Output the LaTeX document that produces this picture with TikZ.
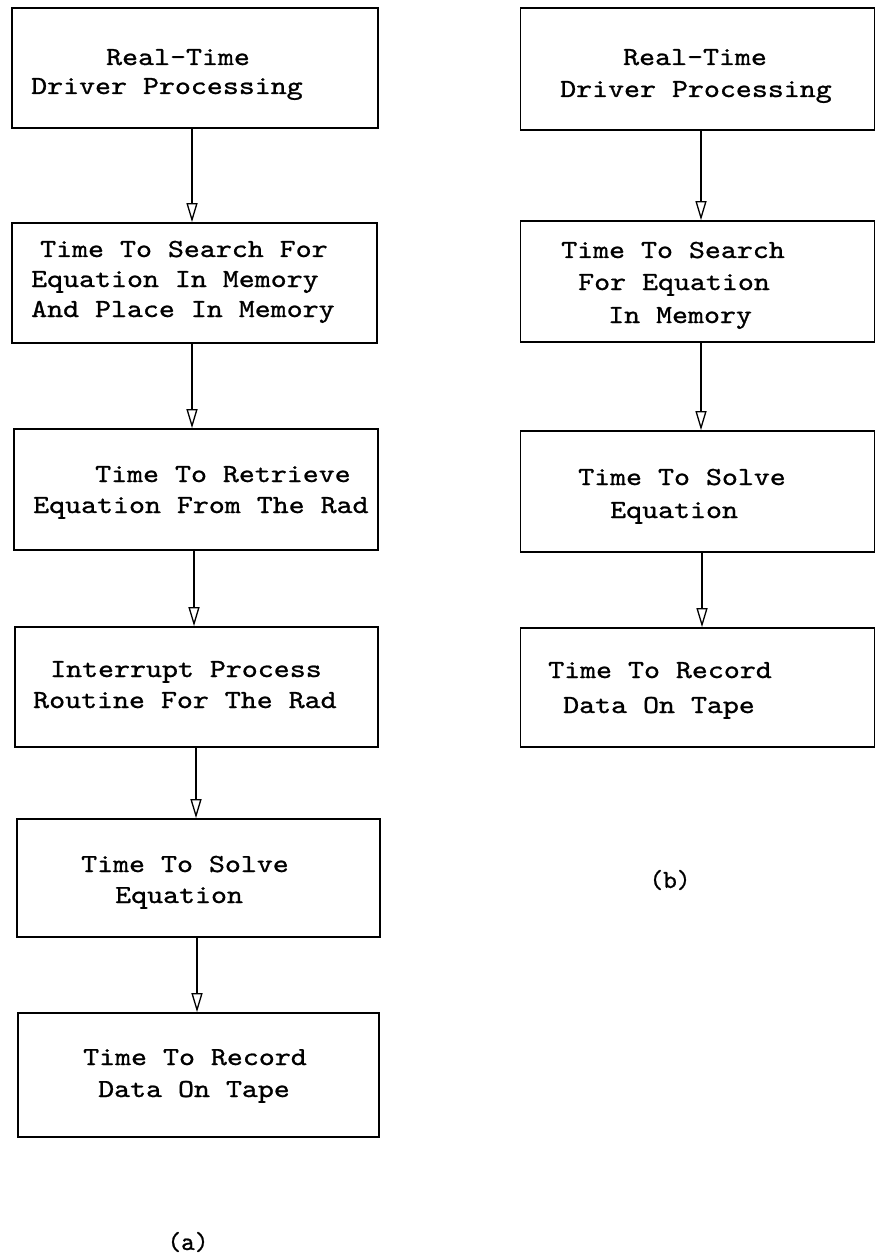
\documentclass[tikz,border=0pt]{standalone}
\usepackage{graphicx}
\usepackage{fontspec}
\newfontfamily\typew{lmmono10-regular.otf}[FakeBold=0.9]
\usetikzlibrary{arrows.meta,calc}
\newcommand\twl[1]{\scalebox{1.17}[1]{#1}}
\tikzset{
  box/.style={draw, rectangle, line width=1.7pt, inner sep=0pt},
  txt/.style={anchor=base west, inner sep=0pt, font=\typew\fontsize{26}{32}\selectfont},
  captxt/.style={anchor=center, inner sep=0pt, font=\typew\fontsize{26}{32}\selectfont},
  flow/.style={line width=1.7pt, -{Triangle[open, length=19pt, width=11pt, line width=1.3pt]}}
}
\begin{document}
\begin{tikzpicture}[x=1pt, y=-1pt]
\useasboundingbox (0,0) rectangle (876,1257);
% column (a)
\node[box, minimum width=366pt, minimum height=120pt] (a1) at (195,68) {};
\node[box, minimum width=365pt, minimum height=120pt] (a2) at (194.5,283) {};
\node[box, minimum width=364pt, minimum height=121pt] (a3) at (196,489.5) {};
\node[box, minimum width=363pt, minimum height=120pt] (a4) at (196.5,687) {};
\node[box, minimum width=363pt, minimum height=118pt] (a5) at (198.5,878) {};
\node[box, minimum width=361pt, minimum height=124pt] (a6) at (198.5,1075) {};
% column (b)
\node[box, minimum width=354pt, minimum height=122pt] (b1) at (697.5,69) {};
\node[box, minimum width=354pt, minimum height=121pt] (b2) at (697.5,281.5) {};
\node[box, minimum width=354pt, minimum height=121pt] (b3) at (697.5,491.5) {};
\node[box, minimum width=354pt, minimum height=119pt] (b4) at (697.5,687.5) {};
% texts (a)
\node[txt] (a1t1) at (106,65) {\twl{Real-Time}};
\node[txt] (a1t2) at (31,94) {\twl{Driver Processing}};
\node[txt] (a2t1) at (40,257) {\twl{Time To Search For}};
\node[txt] (a2t2) at (31,287) {\twl{Equation In Memory}};
\node[txt] (a2t3) at (31,317) {\twl{And Place In Memory}};
\node[txt] (a3t1) at (95,482) {\twl{Time To Retrieve}};
\node[txt] (a3t2) at (33,513) {\twl{Equation From The Rad}};
\node[txt] (a4t1) at (50,677) {\twl{Interrupt Process}};
\node[txt] (a4t2) at (33,708) {\twl{Routine For The Rad}};
\node[txt] (a5t1) at (81,872) {\twl{Time To Solve}};
\node[txt] (a5t2) at (115,903) {\twl{Equation}};
\node[txt] (a6t1) at (83,1065) {\twl{Time To Record}};
\node[txt] (a6t2) at (98,1097) {\twl{Data On Tape}};
% texts (b)
\node[txt] (b1t1) at (623,65) {\twl{Real-Time}};
\node[txt] (b1t2) at (560,97) {\twl{Driver Processing}};
\node[txt] (b2t1) at (561,258) {\twl{Time To Search}};
\node[txt] (b2t2) at (578,290) {\twl{For Equation}};
\node[txt] (b2t3) at (608,323) {\twl{In Memory}};
\node[txt] (b3t1) at (578,485) {\twl{Time To Solve}};
\node[txt] (b3t2) at (610,518) {\twl{Equation}};
\node[txt] (b4t1) at (548,678) {\twl{Time To Record}};
\node[txt] (b4t2) at (563,713) {\twl{Data On Tape}};
% captions
\node[captxt] (capa) at (188,1242) {(a)};
\node[captxt] (capb) at (670,880) {(b)};
% connectors
\draw[flow] ([xshift=-3pt]a1.south) coordinate (c1) -- (c1 |- a2.north);
\draw[flow] ([xshift=-2.5pt]a2.south) coordinate (c2) -- (c2 |- a3.north);
\draw[flow] ([xshift=-2pt]a3.south) coordinate (c3) -- (c3 |- a4.north);
\draw[flow] ([xshift=-0.5pt]a4.south) coordinate (c4) -- (c4 |- a5.north);
\draw[flow] ([xshift=-1.5pt]a5.south) coordinate (c5) -- (c5 |- a6.north);
\draw[flow] ([xshift=3.5pt]b1.south) coordinate (d1) -- (d1 |- b2.north);
\draw[flow] ([xshift=3.5pt]b2.south) coordinate (d2) -- (d2 |- b3.north);
\draw[flow] ([xshift=4.5pt]b3.south) coordinate (d3) -- (d3 |- b4.north);
\end{tikzpicture}
\end{document}
